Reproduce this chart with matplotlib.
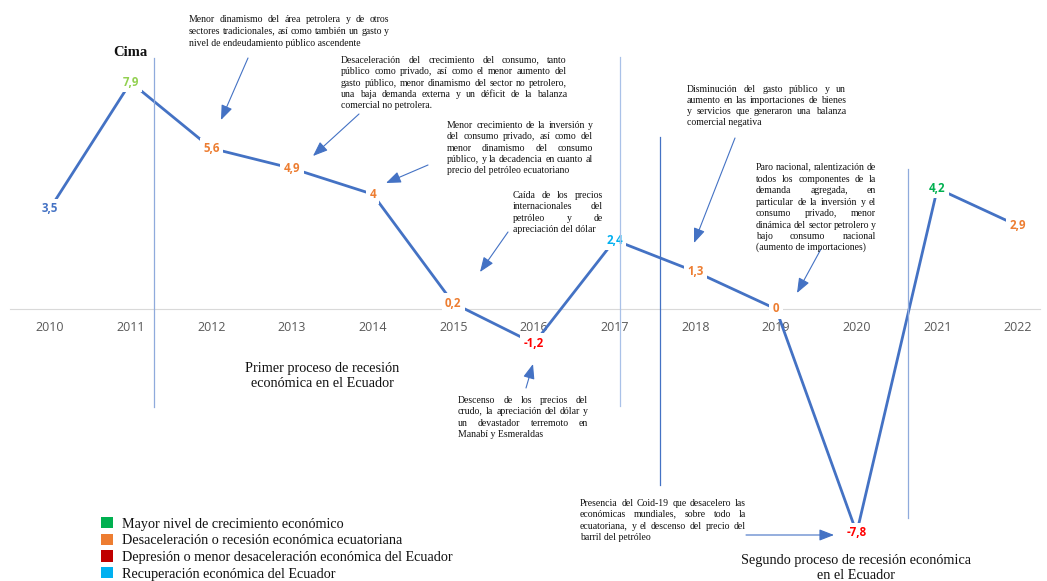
import math
import matplotlib
matplotlib.use('Agg')
import matplotlib.pyplot as plt
from matplotlib.patches import Patch
from matplotlib.lines import Line2D
from matplotlib.font_manager import FontProperties
from matplotlib.backends.backend_agg import get_hinting_flag

# PIB Ecuador, tasa de variacion anual (%)
years = [2010, 2011, 2012, 2013, 2014, 2015, 2016, 2017, 2018, 2019, 2020, 2021, 2022]
growth = [3.5, 7.9, 5.6, 4.9, 4.0, 0.2, -1.2, 2.4, 1.3, 0.0, -7.8, 4.2, 2.9]
label_colors = ['#4472C4', '#92D050', '#ED7D31', '#ED7D31', '#ED7D31', '#ED7D31', '#FF0000',
                '#00B0F0', '#ED7D31', '#ED7D31', '#FF0000', '#00B050', '#ED7D31']

legend_labels = ['Mayor nivel de crecimiento económico',
                 'Desaceleración o recesión económica ecuatoriana',
                 'Depresión o menor desaceleración económica del Ecuador',
                 'Recuperación económica del Ecuador']
legend_colors = ['#00B050', '#ED7D31', '#C00000', '#00B0F0']

W, H = 1047, 581
SERIF = 'Liberation Serif'
SANS = 'Open Sans'
ARROW = '#4472C4'
INK = '#111111'


def fx(x):
    return x / W


def fy(y):
    return 1 - y / H


fig = plt.figure(figsize=(W / 100, H / 100), dpi=100)
ax = fig.add_axes([0, 0, 1, 1])
# pixel -> data mapping: year 2010 at x=50, 80.67 px per year; 0 at y=309, 28.7 px per unit
ax.set_xlim(2010 - 50 / 80.67, 2010 + (W - 50) / 80.67)
ax.set_ylim((309 - H) / 28.7, 309 / 28.7)

ax.plot(years, growth, color='#4472C4', lw=2.0, zorder=3, solid_capstyle='butt')
for yr, v, c in zip(years, growth, label_colors):
    ax.text(yr, v, f'{v:g}'.replace('.', ','), ha='center', va='center', color=c,
            fontsize=8.3, fontweight='bold', family=SANS, zorder=4,
            bbox=dict(boxstyle='square,pad=0.3', fc='white', ec='none'))

for s in ['top', 'left', 'right']:
    ax.spines[s].set_visible(False)
ax.spines['bottom'].set_position(('data', 0))
ax.spines['bottom'].set_color('#D9D9D9')
ax.spines['bottom'].set_bounds(2009.5, 2022.27)
ax.yaxis.set_visible(False)
ax.set_xticks(years)
ax.set_xticklabels([str(y) for y in years])
ax.tick_params(axis='x', length=0, pad=8.5, labelsize=9, labelcolor='#595959')
for lbl in ax.get_xticklabels():
    lbl.set_family(SANS)

# vertical separators
for x, y0, y1, c in [(154, 58, 407, '#8FAADC'), (620, 57, 406, '#A9C1E8'),
                     (660, 137, 485, '#4472C4'), (908, 169, 518, '#8FAADC')]:
    fig.add_artist(Line2D([fx(x), fx(x)], [fy(y0), fy(y1)], color=c, lw=0.9, zorder=5))

renderer = fig.canvas.get_renderer()


def baseline_fix(word, prop):
    # Agg snaps each string's bitmap separately; offset so every word lands
    # on the same baseline pixel row
    font = renderer._prepare_font(prop)
    font.set_text(word, 0, flags=get_hinting_flag())
    h = font.get_width_height()[1] / 64
    d = font.get_descent() / 64
    a = h - d
    return math.floor(a + d) - math.floor(a) - d


def justified(lines, x0, x1, y0, dy, size=7):
    # y0 = visual middle of first line
    prop = FontProperties(family=SERIF, size=size)
    for i, line in enumerate(lines):
        yb = round(y0 + i * dy + 3)
        words = line.split()
        if i == len(lines) - 1 or len(words) == 1:
            words = [line]
        metrics = [renderer.get_text_width_height_descent(w, prop, ismath=False) for w in words]
        widths = [m[0] for m in metrics]
        gap = 0 if len(words) == 1 else (x1 - x0 - sum(widths)) / (len(words) - 1)
        x = x0
        for w, wd in zip(words, widths):
            yy = yb + baseline_fix(w, prop)
            fig.text(fx(x), fy(yy), w, ha='left', va='baseline', fontproperties=prop,
                     color=INK, zorder=6)
            x += wd + gap


notes = [
    (['Menor dinamismo del área petrolera y de otros',
      'sectores tradicionales, así como también un gasto y',
      'nivel de endeudamiento público ascendente'], 189, 389, 19.5, 11.5,
     (248, 58), (221, 120)),
    (['Desaceleración del crecimiento del consumo, tanto',
      'público como privado, así como el menor aumento del',
      'gasto público, menor dinamismo del sector no petrolero,',
      'una baja demanda externa y un déficit de la balanza',
      'comercial no petrolera.'], 341, 567, 60, 11.25,
     (359, 114), (313, 156)),
    (['Menor crecimiento de la inversión y',
      'del consumo privado, así como del',
      'menor dinamismo del consumo',
      'público, y la decadencia en cuanto al',
      'precio del petróleo ecuatoriano'], 447, 593, 125, 11.3,
     (428, 165), (386, 183)),
    (['Caída de los precios',
      'internacionales del',
      'petróleo y de',
      'apreciación del dólar'], 513, 603, 195, 11.3,
     (508, 232), (480, 272)),
    (['Disminución del gasto público y un',
      'aumento en las importaciones de bienes',
      'y servicios que generaron una balanza',
      'comercial negativa'], 687, 846, 88.5, 11.3,
     (735, 138), (694, 243)),
    (['Paro nacional, ralentización de',
      'todos los componentes de la',
      'demanda agregada, en',
      'particular de la inversión y el',
      'consumo privado, menor',
      'dinámica del sector petrolero y',
      'bajo consumo nacional',
      '(aumento de importaciones)'], 756, 876, 167.5, 11.4,
     (821, 249), (797, 293)),
    (['Descenso de los precios del',
      'crudo, la apreciación del dólar y',
      'un devastador terremoto en',
      'Manabí y Esmeraldas'], 458, 588, 400, 11.3,
     (526, 388), (533, 364)),
    (['Presencia del Coid-19 que desacelero las',
      'económicas mundiales, sobre todo la',
      'ecuatoriana, y el descenso del precio del',
      'barril del petróleo'], 580, 746, 503, 11.3,
     (746, 535), (834, 535)),
]

for lines, x0, x1, y0, dy, start, end in notes:
    justified(lines, x0, x1, y0, dy)
    fig.add_artist(plt.Annotation('', xy=(fx(end[0]), fy(end[1])), xycoords='figure fraction',
                                  xytext=(fx(start[0]), fy(start[1])), textcoords='figure fraction',
                                  arrowprops=dict(arrowstyle='-|>,head_length=0.9,head_width=0.35',
                                                  color=ARROW, lw=0.8, shrinkA=0, shrinkB=0)))

fig.text(fx(130), fy(53), 'Cima', ha='center', va='center', fontsize=10.5,
         fontweight='bold', family=SERIF, color=INK)
fig.text(fx(322), fy(376), 'Primer proceso de recesión\neconómica en el Ecuador', ha='center',
         va='center', fontsize=10.3, family=SERIF, color=INK, linespacing=1.12)
fig.text(fx(856), fy(568), 'Segundo proceso de recesión económica\nen el Ecuador', ha='center',
         va='center', fontsize=10.3, family=SERIF, color=INK, linespacing=1.12)

handles = [Patch(facecolor=c, edgecolor='none') for c in legend_colors]
leg = fig.legend(handles, legend_labels, loc='upper left', bbox_to_anchor=(fx(101), fy(517)),
                 frameon=False, borderpad=0, borderaxespad=0, handlelength=0.85,
                 handleheight=0.85, handletextpad=0.65, labelspacing=0.22,
                 prop={'family': SERIF, 'size': 10.2})
for t in leg.get_texts():
    t.set_color(INK)

fig.savefig('out.png', dpi=100)
